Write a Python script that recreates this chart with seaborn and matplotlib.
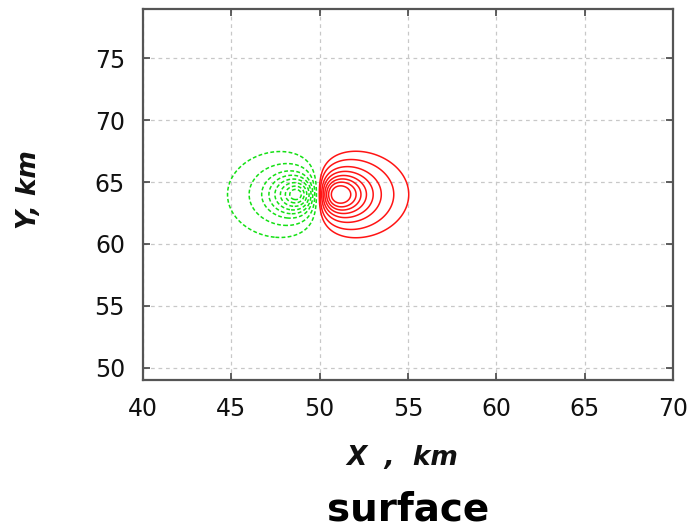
import numpy as np
import matplotlib
matplotlib.use("Agg")
import matplotlib.pyplot as plt
import seaborn as sns

# buried dipole (km)
src_x = [49.9]
src_y = [64.0]
src_depth = [2.48]

# contour levels, as a fraction of the peak value
red_levels = [0.112, 0.189, 0.300, 0.407, 0.522, 0.633, 0.741, 0.858]
green_levels = [-0.947, -0.866, -0.758, -0.636, -0.515, -0.394, -0.246, -0.114]

x_ticks = [40, 45, 50, 55, 60, 65, 70]
y_ticks = [50, 55, 60, 65, 70, 75]

sns.set_theme(style="white")
plt.rcParams['font.family'] = ['DejaVu Sans']

gx = np.linspace(40, 70, 1201)
gy = np.linspace(49, 79, 1201)
X, Y = np.meshgrid(gx, gy)
u = X - src_x[0]
v = Y - src_y[0]
field = u / (u ** 2 + v ** 2 + src_depth[0] ** 2) ** 2.5
field = field / field.max()

fig = plt.figure(figsize=(6.9, 5.32), dpi=100)
ax = fig.add_axes([0.2072, 0.2857, 0.7681, 0.6974])

ax.contour(X, Y, field, levels=red_levels, colors="#ff1414",
           linewidths=1.1, linestyles="solid")
cs = ax.contour(X, Y, field, levels=green_levels, colors="#14e014",
                linewidths=1.1, linestyles="solid")
cs.set_linestyle((0, (2.5, 1.5)))

ax.set_xlim(40, 70)
ax.set_ylim(49, 79)
ax.set_xticks(x_ticks)
ax.set_yticks(y_ticks)
ax.grid(True, color="#c8c8c8", linestyle=(0, (3, 3)), linewidth=0.9)
ax.tick_params(direction="in", length=5, width=1.2, color="#444444",
               top=True, right=True, bottom=True, left=True,
               labelsize=17, labelcolor="#111111")
ax.tick_params(axis="x", pad=12)
ax.tick_params(axis="y", pad=13)
for s in ax.spines.values():
    s.set_color("#555555")
    s.set_linewidth(1.6)

ax.set_xlabel("X  ,  km", fontsize=19, fontweight="bold", fontstyle="italic",
              color="#111111")
ax.xaxis.set_label_coords(0.489, -0.175)
ax.set_ylabel("Y, km", fontsize=19, fontweight="bold", fontstyle="italic",
              color="#111111")
ax.yaxis.set_label_coords(-0.19, 0.512)

fig.text(0.591, 0.022, "surface", fontsize=28, fontweight="bold",
         ha="center", va="baseline", color="#000000")

plt.savefig("out.png", dpi=100)
plt.close()
